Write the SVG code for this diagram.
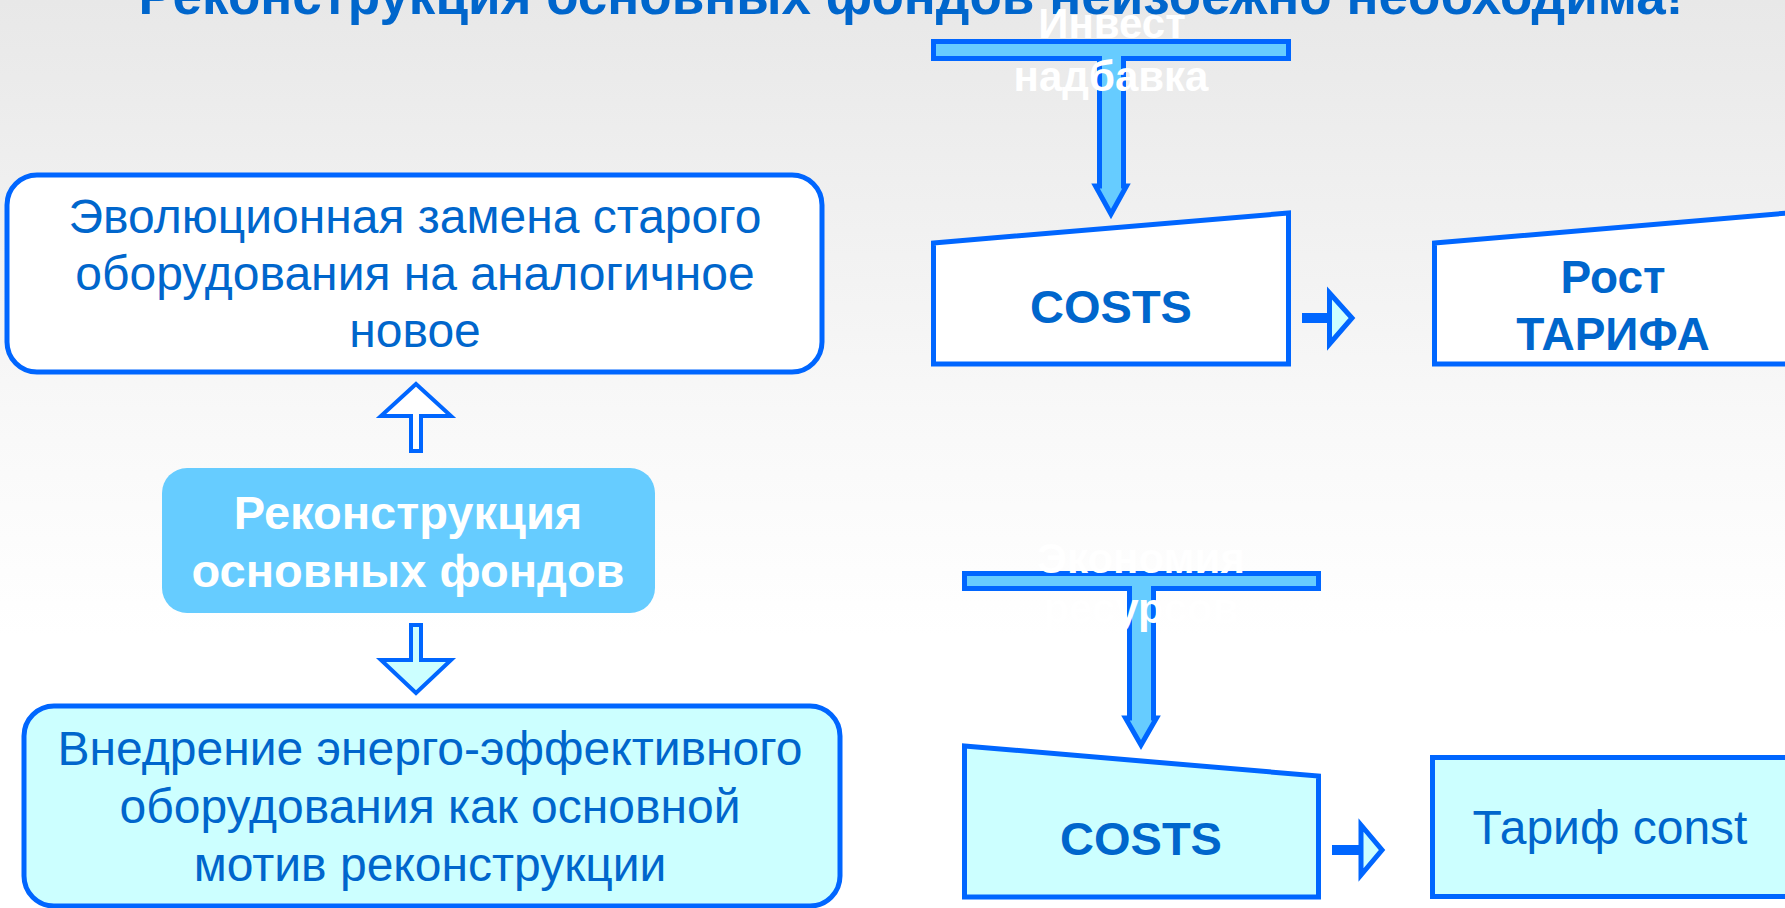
<svg xmlns="http://www.w3.org/2000/svg" width="1785" height="908" viewBox="0 0 1785 908">
<defs>
<linearGradient id="bg" x1="0" y1="0" x2="0" y2="1">
<stop offset="0" stop-color="#e8e8e8"/>
<stop offset="0.45" stop-color="#f8f8f8"/>
<stop offset="0.7" stop-color="#ffffff"/>
<stop offset="1" stop-color="#ffffff"/>
</linearGradient>
<style>
.t{font-family:"Liberation Sans",Arial,sans-serif;text-anchor:middle}
.b{font-weight:bold}
.blue{fill:#0066CC}
.wh{fill:#ffffff}
.st{stroke:#0066FF;stroke-width:5;stroke-linejoin:miter}
.st4{stroke:#0066FF;stroke-width:4;stroke-linejoin:miter}
</style>
</defs>
<rect x="0" y="0" width="1785" height="908" fill="url(#bg)"/>
<g id="title">
<text class="t b blue" x="911" y="14" font-size="53">Реконструкция основных фондов неизбежно необходима!</text>
</g>
<g id="box-evolution">
<rect x="7" y="175" width="815" height="197" rx="30" fill="#ffffff" class="st"/>
<text class="t blue" font-size="48" x="415" y="233">Эволюционная замена старого</text>
<text class="t blue" font-size="48" x="415" y="290">оборудования на аналогичное</text>
<text class="t blue" font-size="48" x="415" y="347">новое</text>
</g>
<g id="box-reconstruction">
<rect x="162" y="468" width="493" height="145" rx="25" fill="#66CCFF"/>
<text class="t b wh" font-size="47" x="408" y="529">Реконструкция</text>
<text class="t b wh" font-size="47" x="408" y="587">основных фондов</text>
</g>
<g id="box-energy">
<rect x="24" y="706" width="816" height="200" rx="30" fill="#CCFFFF" class="st"/>
<text class="t blue" font-size="48" x="430" y="765">Внедрение энерго-эффективного</text>
<text class="t blue" font-size="48" x="430" y="823">оборудования как основной</text>
<text class="t blue" font-size="48" x="430" y="881">мотив реконструкции</text>
</g>
<g id="costs-top">
<polygon points="933.5,243 1288.5,213 1288.5,364 933.5,364" fill="#ffffff" class="st"/>
<text class="t b blue" font-size="47" x="1111" y="323">COSTS</text>
</g>
<g id="tariff-growth">
<polygon points="1434.5,243 1800,212 1800,364 1434.5,364" fill="#ffffff" class="st"/>
<text class="t b blue" font-size="46" x="1613" y="293">Рост</text>
<text class="t b blue" font-size="46" x="1613" y="350">ТАРИФА</text>
</g>
<g id="costs-bottom">
<polygon points="964.5,746 1318.5,776 1318.5,897 964.5,897" fill="#CCFFFF" class="st"/>
<text class="t b blue" font-size="47" x="1141" y="855">COSTS</text>
</g>
<g id="tariff-const">
<rect x="1432.5" y="757.5" width="380" height="139" fill="#CCFFFF" class="st"/>
<text class="t blue" font-size="48" x="1610" y="844">Тариф const</text>
</g>
<g id="connectors">
<polygon points="416,384 451,416 421,416 421,451 411,451 411,416 381,416" fill="#ffffff" class="st4"/>
<polygon points="411,625 421,625 421,660 451,660 416,693 381,660 411,660" fill="#CCFFFF" class="st4"/>
<path d="M933.5,41.5 H1288.5 V58.5 H1123.5 V186 H1126.5 L1111,214 L1095.5,186 H1099.5 V58.5 H933.5 Z" fill="#66CCFF" class="st"/>
<path d="M964.5,573.5 H1318.5 V588.5 H1153.5 V718 H1156.5 L1141,745 L1125.5,718 H1129.5 V588.5 H964.5 Z" fill="#66CCFF" class="st"/>
<rect x="1302" y="313" width="28" height="10" fill="#0066FF"/>
<polygon points="1329.5,293 1352,318 1329.5,344" fill="#CCFFFF" class="st"/>
<rect x="1332" y="845" width="29" height="10" fill="#0066FF"/>
<polygon points="1361,825 1382,850 1361,875" fill="#CCFFFF" class="st"/>
<text class="t b wh" font-size="42" x="1112" y="38">Инвест</text>
<text class="t b wh" font-size="42" x="1111" y="91">надбавка</text>
<text class="t b wh" font-size="42" x="1141" y="573">Экономия</text>
<text class="t b wh" font-size="42" x="1141" y="623">ресурсов</text>
</g>
</svg>
